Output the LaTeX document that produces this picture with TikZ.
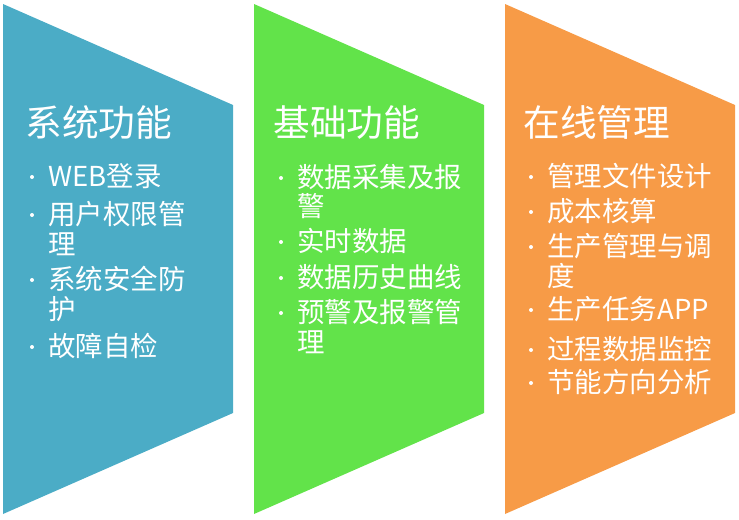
\documentclass[tikz,border=0pt]{standalone}
\usepackage{fontspec}
\setmainfont{Noto Sans CJK SC}
\usetikzlibrary{calc}
\definecolor{sysblue}{HTML}{4BACC6}
\definecolor{basegreen}{HTML}{62E34A}
\definecolor{onorange}{HTML}{F79B47}
\tikzset{every picture/.style={line width=0.75pt}}
\tikzset{
  colhead/.style={anchor=west, inner sep=0pt, text=white, font=\fontsize{27.5}{30}\selectfont},
  bullitem/.style={anchor=north west, inner sep=0pt, text=white, align=left, font=\fontsize{20.6}{22}\selectfont},
}

\begin{document}
\begin{tikzpicture}[x=0.75pt,y=-0.75pt]
    \useasboundingbox (0,0) rectangle (739,519);

    % 三个色块
    \foreach \x/\c in {3/sysblue,254/basegreen,505/onorange}
        \fill[\c] (\x,4) -- ++(230,101) -- ++(0,308) -- ++(-230,101) -- cycle;

    % 系统功能
    \node[colhead] (t1) at (25,123) {系统功能};
    \node[bullitem] (a1) at (48,163) {WEB登录};
    \node[bullitem] (a2) at (48,201) {用户权限管\\理};
    \node[bullitem] (a3) at (48,266) {系统安全防\\护};
    \node[bullitem] (a4) at (48,333) {故障自检};

    % 基础功能
    \node[colhead] (t2) at (273,123) {基础功能};
    \node[bullitem] (b1) at (297,164) {数据采集及报\\警};
    \node[bullitem] (b2) at (297,228) {实时数据};
    \node[bullitem] (b3) at (297,264) {数据历史曲线};
    \node[bullitem] (b4) at (297,299) {预警及报警管\\理};

    % 在线管理
    \node[colhead] (t3) at (523,123) {在线管理};
    \node[bullitem] (c1) at (547,163) {管理文件设计};
    \node[bullitem] (c2) at (547,198) {成本核算};
    \node[bullitem] (c3) at (547,233) {生产管理与调\\度};
    \node[bullitem] (c4) at (547,296) {生产任务APP};
    \node[bullitem] (c5) at (547,336) {过程数据监控};
    \node[bullitem] (c6) at (547,369) {节能方向分析};

    % 项目符号
    \foreach \n in {a1,a2,a3,a4,b1,b2,b3,b4,c1,c2,c3,c4,c5,c6}
        \fill[white] ($(\n.north west)+(-16,14)$) circle (1.5pt);
\end{tikzpicture}
\end{document}
